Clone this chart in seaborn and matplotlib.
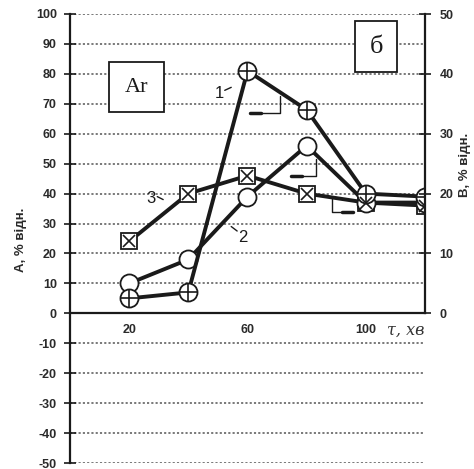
import numpy as np
import pandas as pd
import matplotlib
matplotlib.use("Agg")
import matplotlib.pyplot as plt
import seaborn as sns

# time, min
tau = [20, 40, 60, 80, 100, 120]
# curve 1, curve 2, curve 3 (values in left-axis units, %)
curve1 = [5, 7, 81, 68, 40, 39]
curve2 = [10, 18, 39, 56, 37, 37]
curve3 = [24, 40, 46, 40, 37, 36]

left_ticks = list(range(-50, 101, 10))
right_ticks = list(range(0, 51, 10))
x_ticks = [20, 40, 60, 80, 100]
x_tick_labels = ["20", "", "60", "", "100"]

sns.set_theme(style="white")
plt.rcParams["font.family"] = ["Liberation Sans", "DejaVu Sans"]

fig = plt.figure(figsize=(4.74, 4.69), dpi=100)
ax = fig.add_axes([70 / 474, 1 - 463 / 469, (425 - 70) / 474, (463 - 14) / 469])
ax.set_xlim(0, 120)
ax.set_ylim(-50, 100)

# dotted horizontal grid
for v in left_ticks:
    if v != 0:
        ax.axhline(v, color="#555555", lw=1.1, ls=(0, (1.4, 1.4)), zorder=0)

df = pd.DataFrame({"tau": tau, "c1": curve1, "c2": curve2, "c3": curve3})
line_kw = dict(color="#1a1a1a", lw=2.8, markersize=13, markerfacecolor="white",
               markeredgecolor="#1a1a1a", markeredgewidth=1.3)
sns.lineplot(data=df, x="tau", y="c3", marker="s", ax=ax, markersize=12,
             color="#1a1a1a", lw=2.8, markerfacecolor="white",
             markeredgecolor="#1a1a1a", markeredgewidth=1.3, zorder=3)
sns.lineplot(data=df, x="tau", y="c2", marker="o", ax=ax, zorder=4, **line_kw)
sns.lineplot(data=df, x="tau", y="c1", marker="o", ax=ax, zorder=5, **line_kw)
ax.plot(df["tau"], df["c1"], ls="none", marker="+", markersize=13,
        markeredgewidth=1.2, color="#1a1a1a", zorder=6)
ax.plot(df["tau"], df["c3"], ls="none", marker="x", markersize=8,
        markeredgewidth=1.2, color="#1a1a1a", zorder=6)

# spines and ticks
for s in ["top", "right"]:
    ax.spines[s].set_visible(False)
ax.spines["left"].set_color("#1a1a1a")
ax.spines["left"].set_linewidth(1.6)
ax.spines["bottom"].set_position(("data", 0))
ax.spines["bottom"].set_color("#1a1a1a")
ax.spines["bottom"].set_linewidth(1.6)
ax.set_yticks(left_ticks)
ax.set_yticklabels([str(v) for v in left_ticks])
ax.set_xticks(x_ticks)
ax.set_xticklabels(x_tick_labels)
ax.tick_params(axis="y", direction="inout", length=9, width=1.2, color="#1a1a1a",
               labelsize=9, pad=5)
ax.tick_params(axis="x", direction="inout", length=6, width=1.2, color="#1a1a1a",
               labelsize=9, pad=5)
for lab in ax.get_xticklabels() + ax.get_yticklabels():
    lab.set_fontweight("bold")
    lab.set_color("#2a2a2a")
ax.set_xlabel("")
ax.set_ylabel("")

# right axis
ax2 = ax.twinx()
ax2.set_ylim(-25, 50)
ax2.set_position(ax.get_position())
for s in ["top", "left", "bottom"]:
    ax2.spines[s].set_visible(False)
ax2.spines["right"].set_bounds(0, 50)
ax2.spines["right"].set_color("#1a1a1a")
ax2.spines["right"].set_linewidth(1.6)
ax2.set_yticks(right_ticks)
ax2.set_yticklabels([str(v) for v in right_ticks])
ax2.tick_params(axis="y", direction="inout", length=9, width=1.2, color="#1a1a1a",
                labelsize=9, pad=6)
for lab in ax2.get_yticklabels():
    lab.set_fontweight("bold")
    lab.set_color("#2a2a2a")
ax2.grid(False)

# axis titles
fig.text(21 / 474, 1 - 240 / 469, "А, % відн.", rotation=90, ha="center", va="center",
         fontsize=9.5, fontweight="bold", color="#2a2a2a")
fig.text(465 / 474, 1 - 165 / 469, "В, % відн.", rotation=90, ha="center", va="center",
         fontsize=9.5, fontweight="bold", color="#2a2a2a")
ax.text(120, -3, "τ, хв", ha="right", va="top", fontsize=11.5, style="italic",
        family="DejaVu Serif", color="#333333")

# labelled boxes
ax.text(22.5, 75.5, "Ar", ha="center", va="center", fontsize=16, family="Liberation Serif",
        color="#1a1a1a",
        bbox=dict(boxstyle="square,pad=0.7", fc="white", ec="#1a1a1a", lw=1.3))
ax.text(103.5, 89, "б", ha="center", va="center", fontsize=19, family="Liberation Serif",
        color="#1a1a1a",
        bbox=dict(boxstyle="square,pad=0.55", fc="white", ec="#1a1a1a", lw=1.3))

# curve numbers
ax.text(50.5, 73.5, "1", ha="center", va="center", fontsize=12, color="#1a1a1a")
ax.plot([52.3, 54.5], [74.5, 75.5], color="#1a1a1a", lw=1)
ax.text(58.5, 25.5, "2", ha="center", va="center", fontsize=12, color="#1a1a1a")
ax.plot([54.5, 56.5], [29, 27.5], color="#1a1a1a", lw=1)
ax.text(27.5, 38.5, "3", ha="center", va="center", fontsize=12, color="#1a1a1a")
ax.plot([29.5, 31.5], [39, 38], color="#1a1a1a", lw=1)

# axis pointers
ax.plot([71, 71, 61], [72.5, 67, 67], color="#1a1a1a", lw=1)
ax.plot([61, 64.5], [67, 67], color="#1a1a1a", lw=2.5)
ax.plot([83.3, 83.3, 74.8], [51.5, 46, 46], color="#1a1a1a", lw=1)
ax.plot([74.8, 78.5], [46, 46], color="#1a1a1a", lw=2.5)
ax.plot([88.4, 88.4, 95.5], [39, 33.8, 33.8], color="#1a1a1a", lw=1)
ax.plot([92, 95.5], [33.8, 33.8], color="#1a1a1a", lw=2.5)

fig.savefig("out.png", dpi=100, facecolor="white")
